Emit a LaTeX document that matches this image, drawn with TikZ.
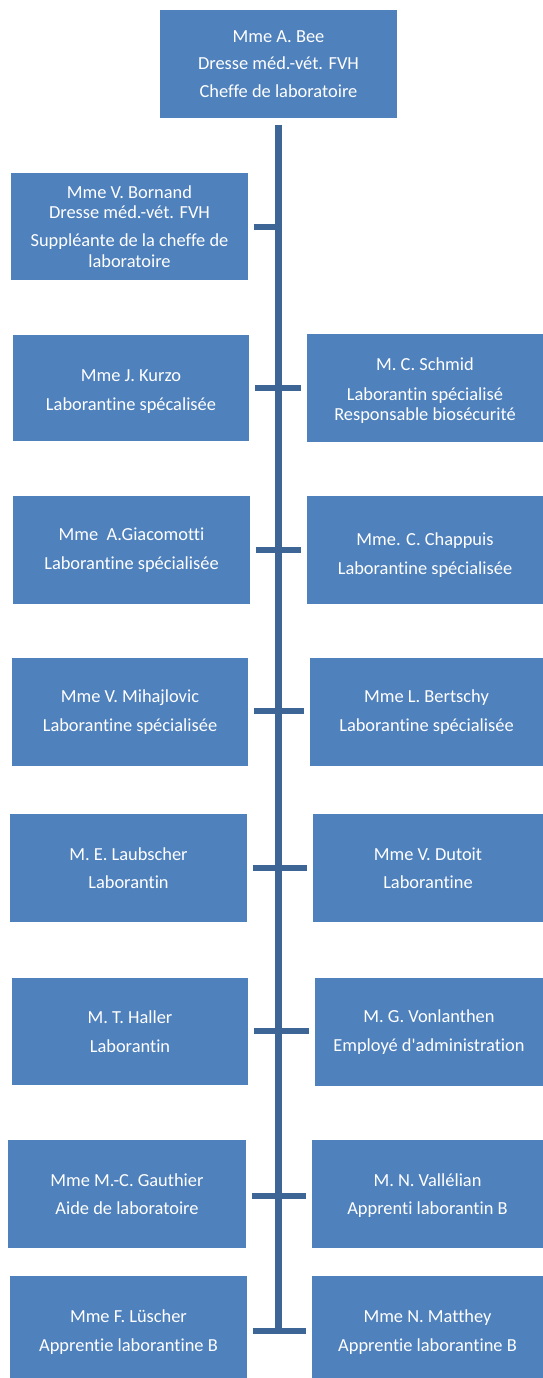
\documentclass[tikz,border=0pt]{standalone}
\usepackage{fontspec}
\setmainfont{Carlito}
\newfontfamily\boxfont{Carlito}[Ligatures=NoCommon]
\definecolor{boxblue}{HTML}{4F81BD}
\definecolor{lineblue}{HTML}{3D6697}
\newcommand{\lowr}[1]{\rule{0pt}{#1pt}}
\begin{document}
\begin{tikzpicture}[x=1pt,y=-1pt,
  box/.style={rectangle, fill=boxblue, draw=none, text=white, inner sep=0pt, align=center,
    font=\boxfont\fontsize{18.4}{28.5}\selectfont},
  spine/.style={draw=lineblue, line width=7pt, line cap=butt},
  bar/.style={draw=lineblue, line width=5.5pt, line cap=butt}]
\useasboundingbox[fill=white] (0,0) rectangle (543,1378);
% boxes
\node[box, minimum width=237pt, minimum height=108pt, font=\boxfont\fontsize{18.4}{27.5}\selectfont] (top) at (278.5,64) {Mme A. Bee\\Dresse méd.-vét. FVH\\Cheffe de laboratoire};
\node[box, minimum width=237pt, minimum height=107pt, font=\boxfont\fontsize{18.4}{20.5}\selectfont] (b1) at (129.5,226.5) {Mme V. Bornand\\Dresse méd.-vét. FVH\\[7.5pt]Suppléante de la cheffe de\\laboratoire};
\node[box, minimum width=236pt, minimum height=106pt] (l2) at (131,388) {\lowr{19.4}Mme J. Kurzo\\Laborantine spécalisée};
\node[box, minimum width=236pt, minimum height=108pt, font=\boxfont\fontsize{18.4}{20.5}\selectfont] (r2) at (425,388) {\lowr{18.4}M. C. Schmid\\[9.5pt]Laborantin spécialisé\\Responsable biosécurité};
\node[box, minimum width=237pt, minimum height=108pt] (l3) at (131.5,550) {Mme\ \ A.Giacomotti\\Laborantine spécialisée};
\node[box, minimum width=236pt, minimum height=108pt] (r3) at (425,550) {\lowr{23.4}Mme. C. Chappuis\\Laborantine spécialisée};
\node[box, minimum width=236pt, minimum height=108pt] (l4) at (130,712) {Mme V. Mihajlovic\\Laborantine spécialisée};
\node[box, minimum width=233pt, minimum height=108pt] (r4) at (426.5,712) {Mme L. Bertschy\\Laborantine spécialisée};
\node[box, minimum width=237pt, minimum height=108pt] (l5) at (128.5,868) {M. E. Laubscher\\Laborantin};
\node[box, minimum width=230pt, minimum height=108pt] (r5) at (428,868) {Mme V. Dutoit\\Laborantine};
\node[box, minimum width=236pt, minimum height=107pt] (l6) at (130,1031.5) {M. T. Haller\\Laborantin};
\node[box, minimum width=228pt, minimum height=108pt] (r6) at (429,1032) {M. G. Vonlanthen\\Employé d'administration};
\node[box, minimum width=238pt, minimum height=108pt] (l7) at (127,1194) {Mme M.-C. Gauthier\\Aide de laboratoire};
\node[box, minimum width=231pt, minimum height=108pt] (r7) at (427.5,1194) {\lowr{16}M. N. Vallélian\\Apprenti laborantin B};
\node[box, minimum width=237pt, minimum height=102pt] (l8) at (128.5,1327) {\lowr{23.4}Mme F. Lüscher\\Apprentie laborantine B};
\node[box, minimum width=231pt, minimum height=102pt] (r8) at (427.5,1327) {\lowr{23.4}Mme N. Matthey\\Apprentie laborantine B};
% spine points
\coordinate (s0) at (278.5,125);
\coordinate (s1) at (278.5,227);
\coordinate (s2) at (278.5,388);
\coordinate (s3) at (278.5,550);
\coordinate (s4) at (278.5,711);
\coordinate (s5) at (278.5,868);
\coordinate (s6) at (278.5,1031);
\coordinate (s7) at (278.5,1196);
\coordinate (s8) at (278.5,1331);
% bar end points
\coordinate (la1) at (b1.east |- s1);
\foreach \i in {2,...,8} {
  \coordinate (la\i) at (l\i.east |- s\i);
  \coordinate (ra\i) at (r\i.west |- s\i);
}
% connectors
\draw[spine] (top.south |- s0) -- (s8);
\draw[bar] ([xshift=5.5pt]la1) -- ([xshift=3.5pt]s1);
\foreach \i in {2,...,8} {
  \draw[bar] ([xshift=5.5pt]la\i) -- ([xshift=-5.5pt]ra\i);
}
\end{tikzpicture}
\end{document}
